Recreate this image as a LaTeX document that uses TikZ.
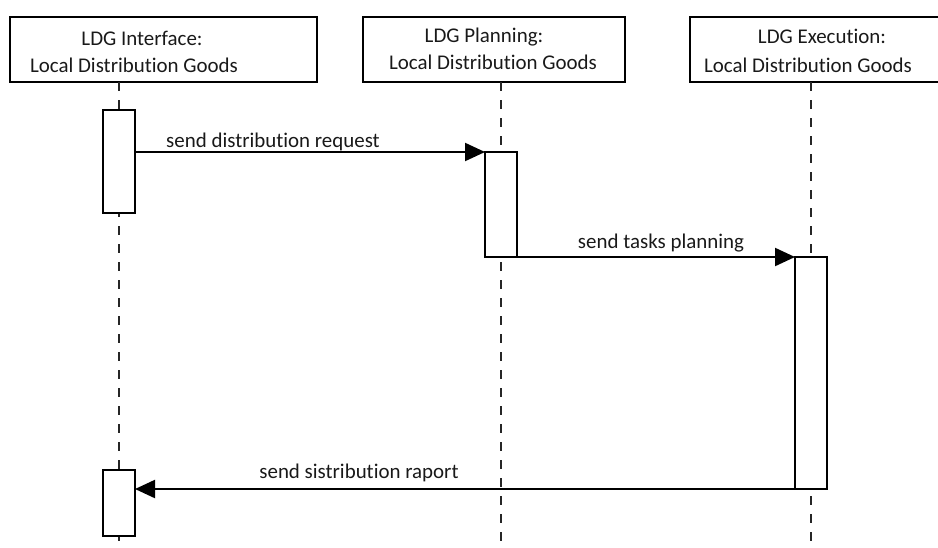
\documentclass[tikz,border=0pt]{standalone}
\usepackage{fontspec}
\setmainfont{Carlito}[Ligatures={NoCommon,NoRare}]
\usetikzlibrary{arrows.meta,fit}

\begin{document}
\begin{tikzpicture}[x=0.75pt,y=-0.75pt,
  every node/.style={font=\fontsize{15.7}{19}\selectfont, text=black!90},
  headbox/.style={draw, line width=1.6pt, inner sep=0pt, outer sep=0pt},
  actbox/.style={draw, fill=white, line width=1.6pt, inner sep=0pt, outer sep=0pt},
  lifeline/.style={line width=2pt, dash pattern=on 7pt off 6.5pt, black!85},
  msg/.style={line width=1.6pt, -{Triangle[length=15pt,width=13.5pt]}},
  msgtext/.style={anchor=base, inner sep=0pt},
  headtext/.style={anchor=base, inner sep=0pt}]
\useasboundingbox (0,0) rectangle (938,547);

% participant headers
\node[headbox, fit={(10,17) (317,82)}] (h1) {};
\node[headbox, fit={(363,17) (625,82)}] (h2) {};
\node[headbox, fit={(690,17) (945,82)}] (h3) {};

\node[headtext] (h1a) at (142,45) {LDG Interface:};
\node[headtext] (h1b) at (134,72) {Local Distribution Goods};
\node[headtext] (h2a) at (484,42) {LDG Planning:};
\node[headtext] (h2b) at (493,69) {Local Distribution Goods};
\node[headtext] (h3a) at (822,43) {LDG Execution:};
\node[headtext] (h3b) at (808,72) {Local Distribution Goods};

% lifeline ends
\coordinate (e1) at (119,547);
\coordinate (e2) at (501,547);
\coordinate (e3) at (811,547);

\draw[lifeline] (e1 |- h1.south) -- (e1);
\draw[lifeline] (e2 |- h2.south) -- (e2);
\draw[lifeline] (e3 |- h3.south) -- (e3);

% activation bars
\node[actbox, fit={(103,110) (135,213)}] (a1) {};
\node[actbox, fit={(485,152) (517,257)}] (a2) {};
\node[actbox, fit={(795,257) (827,489)}] (a3) {};
\node[actbox, fit={(103,470) (135,536)}] (a4) {};

% messages
\draw[msg] (a1.east |- a2.north west) -- (a2.north west);
\draw[msg] (a2.south east) -- (a3.north west);
\draw[msg] (a3.south west) -- (a4.east |- a3.south west);

\node[msgtext] (t1) at (273,147) {send distribution request};
\node[msgtext] (t2) at (661,248) {send tasks planning};
\node[msgtext] (t3) at (359,478) {send sistribution raport};
\end{tikzpicture}
\end{document}
